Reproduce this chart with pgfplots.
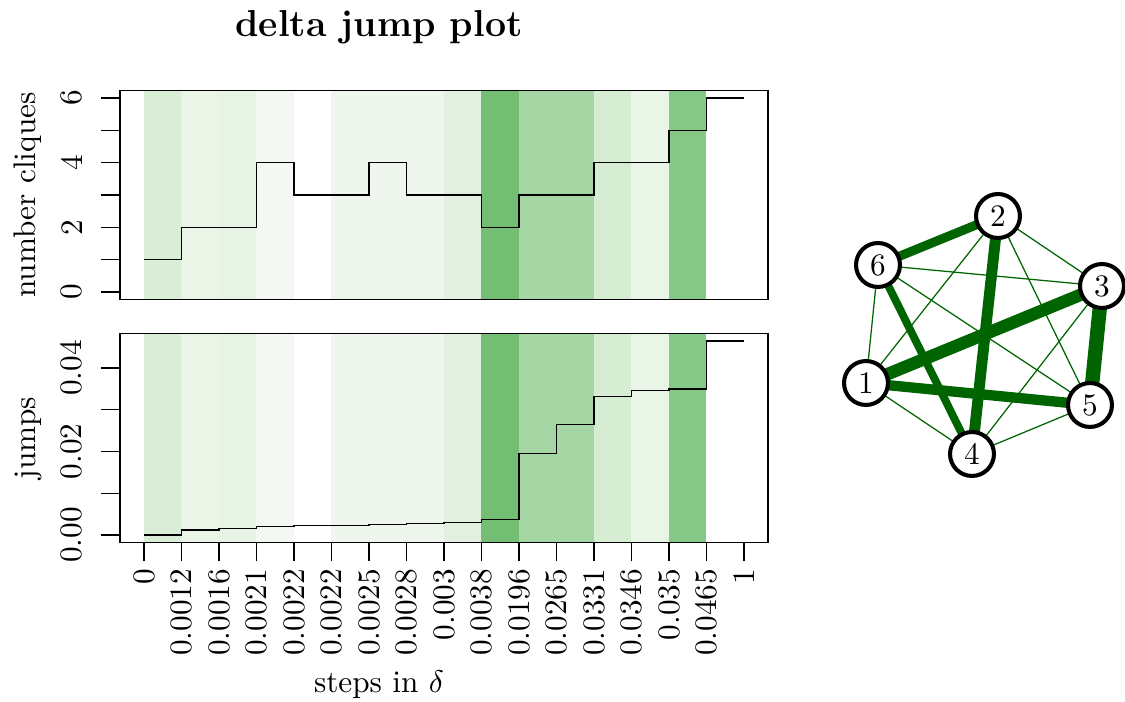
\documentclass[border=0pt]{standalone}
\usepackage{pgfplots}
\pgfplotsset{compat=1.18}
\definecolor{b0}{HTML}{DAEDD7}
\definecolor{b1}{HTML}{EAF5E8}
\definecolor{b2}{HTML}{E7F3E5}
\definecolor{b3}{HTML}{F3F9F2}
\definecolor{b5}{HTML}{EEF6ED}
\definecolor{b8}{HTML}{E1F0DF}
\definecolor{b9}{HTML}{74BE74}
\definecolor{b10}{HTML}{A5D6A3}
\definecolor{b12}{HTML}{D6ECD3}
\definecolor{b13}{HTML}{E9F5E7}
\definecolor{b14}{HTML}{86C886}
\definecolor{g}{HTML}{006400}
% background bands, one per step
\newcommand\bands[2]{%
  \addplot[draw=none,fill=b0] coordinates {(0,#1)(1,#1)(1,#2)(0,#2)};
  \addplot[draw=none,fill=b1] coordinates {(1,#1)(2,#1)(2,#2)(1,#2)};
  \addplot[draw=none,fill=b2] coordinates {(2,#1)(3,#1)(3,#2)(2,#2)};
  \addplot[draw=none,fill=b3] coordinates {(3,#1)(4,#1)(4,#2)(3,#2)};
  \addplot[draw=none,fill=b5] coordinates {(5,#1)(8,#1)(8,#2)(5,#2)};
  \addplot[draw=none,fill=b8] coordinates {(8,#1)(9,#1)(9,#2)(8,#2)};
  \addplot[draw=none,fill=b9] coordinates {(9,#1)(10,#1)(10,#2)(9,#2)};
  \addplot[draw=none,fill=b10] coordinates {(10,#1)(12,#1)(12,#2)(10,#2)};
  \addplot[draw=none,fill=b12] coordinates {(12,#1)(13,#1)(13,#2)(12,#2)};
  \addplot[draw=none,fill=b13] coordinates {(13,#1)(14,#1)(14,#2)(13,#2)};
  \addplot[draw=none,fill=b14] coordinates {(14,#1)(15,#1)(15,#2)(14,#2)};
}
\pgfplotsset{rbox/.style={scale only axis,width=207.36pt,height=67.06pt,
  xmin=-0.64,xmax=16.64,axis on top,tick align=outside,major tick length=6pt,
  xtick pos=bottom,ytick pos=left,scaled ticks=false,
  tick style={black,line width=0.4pt},axis line style={line width=0.4pt},
  yticklabel style={rotate=90,anchor=south,inner sep=0pt},
  yticklabel shift=5.8pt,
  every tick label/.append style={font=\normalsize}}}
\begin{document}
\begin{tikzpicture}
\useasboundingbox (0pt,0pt) rectangle (360pt,224.64pt);
\begin{axis}[rbox,at={(38.4pt,128.70pt)},anchor=south west,
  ymin=-0.24,ymax=6.24,xtick=\empty,ytick={0,...,6},yticklabels={0,,2,,4,,6}]
\bands{-1}{10}
\addplot[const plot,black,line width=0.4pt] coordinates {
 (0,1)(1,2)(2,2)(3,4)(4,3)(5,3)(6,4)(7,3)(8,3)(9,2)(10,3)(11,3)(12,4)(13,4)(14,5)(15,6)(16,6)};
\end{axis}
\begin{axis}[rbox,at={(38.4pt,50.94pt)},anchor=south west,
  ymin=-0.00186,ymax=0.04836,ytick={0,0.01,0.02,0.03,0.04},yticklabels={0.00,,0.02,,0.04},
  xtick={0,...,16},
  xticklabels={0,0.0012,0.0016,0.0021,0.0022,0.0022,0.0025,0.0028,0.003,0.0038,0.0196,0.0265,0.0331,0.0346,0.035,0.0465,1},
  xticklabel style={rotate=90,anchor=east,inner sep=0pt},xticklabel shift=2.2pt]
\bands{-1}{1}
\addplot[const plot,black,line width=0.4pt] coordinates {
 (0,0)(1,0.0012)(2,0.0016)(3,0.0021)(4,0.0022)(5,0.0022)(6,0.0025)(7,0.0028)(8,0.003)
 (9,0.0038)(10,0.0196)(11,0.0265)(12,0.0331)(13,0.0346)(14,0.035)(15,0.0465)(16,0.0465)};
\end{axis}
\node[anchor=base] at (121.28pt,212.9pt) {\large\bfseries delta jump plot};
\node[anchor=base] at (121.28pt,3.0pt) {steps in $\delta$};
\node[rotate=90,anchor=base] at (11.5pt,162.24pt) {number cliques};
\node[rotate=90,anchor=base] at (11.5pt,84.46pt) {jumps};
% clique graph
\begin{axis}[at={(262.4pt,67.84pt)},anchor=south west,scale only axis,width=97.6pt,height=99.2pt,
  xmin=820,xmax=1125,ymin=180,ymax=490,y dir=reverse,hide axis,clip=false]
\addplot[g,line width=0.4pt] coordinates {(866,383)(998,216)};
\addplot[g,line width=0.4pt] coordinates {(866,383)(972,454)};
\addplot[g,line width=0.4pt] coordinates {(866,383)(878,265)};
\addplot[g,line width=0.4pt] coordinates {(998,216)(1102,286)};
\addplot[g,line width=0.4pt] coordinates {(998,216)(1090,405)};
\addplot[g,line width=0.4pt] coordinates {(1102,286)(972,454)};
\addplot[g,line width=0.4pt] coordinates {(1102,286)(878,265)};
\addplot[g,line width=0.4pt] coordinates {(972,454)(1090,405)};
\addplot[g,line width=0.4pt] coordinates {(1090,405)(878,265)};
\addplot[g,line width=2.9pt] coordinates {(878,265)(998,216)};
\addplot[g,line width=3.5pt] coordinates {(998,216)(972,454)};
\addplot[g,line width=2.5pt] coordinates {(878,265)(972,454)};
\addplot[g,line width=4pt] coordinates {(866,383)(1102,286)};
\addplot[g,line width=4.6pt] coordinates {(1102,286)(1090,405)};
\addplot[g,line width=3.3pt] coordinates {(866,383)(1090,405)};
\addplot[only marks,mark=*,mark size=7.03pt,
  mark options={draw=black,fill=white,line width=1.3pt},
  nodes near coords,point meta=explicit symbolic,
  every node near coord/.append style={anchor=center,black,font=\normalsize}]
  coordinates {(866,383)[1] (998,216)[2] (1102,286)[3] (972,454)[4] (1090,405)[5] (878,265)[6]};
\end{axis}
\end{tikzpicture}
\end{document}
